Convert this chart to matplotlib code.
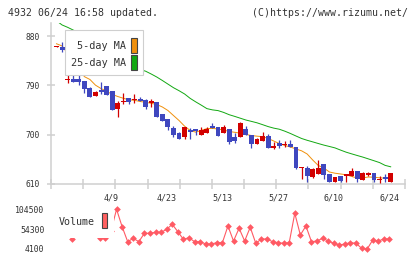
import matplotlib
matplotlib.use('Agg')
import matplotlib.pyplot as plt
import matplotlib.transforms as mtransforms
from matplotlib.patches import Rectangle
import numpy as np

# ---------------- data ----------------
opens = [859.5, 859.6, 799.3, 801.7, 801.7, 798.0, 784.7, 771.2, 781.6, 788.9,
         779.8, 746.4, 759.0, 767.0, 763.0, 764.6, 763.4, 757.3, 759.2, 737.8,
         728.7, 712.8, 702.4, 696.4, 708.6, 709.9, 699.5, 703.7, 715.9, 713.5,
         703.7, 710.4, 696.4, 696.4, 710.4, 699.5, 683.0, 689.1, 697.6, 676.3,
         684.3, 681.5, 683.0, 678.1, 639.0, 639.8, 623.3, 628.3, 646.5, 627.7,
         614.2, 625.2, 625.5, 625.2, 633.7, 617.3, 627.0, 630.6, 618.0, 623.3,
         614.2]
highs = [861.5, 869.8, 810.3, 813.9, 812.1, 798.5, 787.6, 780.3, 795.7, 788.9,
         779.8, 761.5, 776.7, 767.0, 774.3, 768.3, 765.2, 764.6, 759.2, 737.8,
         728.7, 715.9, 705.5, 713.5, 711.7, 709.9, 713.5, 713.5, 721.9, 713.5,
         717.7, 710.4, 702.6, 723.8, 715.9, 699.5, 693.4, 705.5, 700.7, 687.2,
         690.3, 688.5, 690.3, 678.1, 641.0, 642.9, 638.7, 653.8, 646.5, 627.7,
         623.3, 625.2, 627.5, 639.8, 633.7, 631.9, 631.9, 630.6, 624.6, 628.8,
         630.6]
lows = [859.5, 850.4, 795.0, 796.8, 790.7, 776.7, 768.3, 771.2, 773.8, 772.5,
        745.1, 731.8, 756.0, 755.5, 758.4, 761.5, 746.9, 751.1, 732.9, 725.6,
        708.6, 696.4, 691.6, 691.6, 692.2, 699.5, 699.5, 703.7, 711.7, 698.2,
        703.7, 682.5, 685.4, 696.4, 699.5, 676.3, 683.0, 689.1, 675.2, 673.3,
        676.3, 678.1, 678.1, 637.4, 619.1, 614.2, 621.0, 628.3, 618.6, 614.2,
        614.2, 614.2, 614.2, 625.2, 614.2, 617.3, 624.6, 614.2, 612.4, 614.2,
        614.2]
closes = [861.5, 854.2, 801.7, 796.8, 796.8, 783.4, 769.4, 778.5, 778.5, 772.5,
          745.1, 758.4, 761.0, 760.2, 765.0, 761.5, 751.1, 762.1, 732.9, 725.6,
          714.6, 699.5, 691.6, 713.5, 704.4, 706.8, 708.6, 710.4, 712.8, 698.2,
          713.5, 687.2, 689.1, 721.9, 699.5, 682.5, 691.6, 697.6, 675.2, 679.4,
          679.9, 683.5, 678.1, 639.8, 641.0, 625.2, 637.4, 639.8, 626.4, 614.2,
          623.3, 616.0, 627.5, 633.7, 618.6, 629.5, 630.6, 617.3, 620.0, 619.1,
          630.6]
ma5 = [866, 862, 848, 836, 822, 806, 800.8, 790.4, 784.2, 779.2,
       773.6, 769.7, 766.5, 763.7, 762.8, 760.6, 759.2, 757.3, 755.1, 750.6,
       744.2, 735.0, 725.9, 715.5, 707.7, 704.6, 708.0, 711.1, 711.5, 710.4,
       708.6, 705.8, 704.4, 702.7, 700.4, 698.5, 697.3, 696.4, 693.1, 688.5,
       683.8, 680.3, 677.5, 673.9, 670.6, 664.8, 653.8, 643.8, 639.2, 631.9,
       629.7, 628.3, 626.8, 623.7, 621.0, 621.3, 622.8, 622.4, 621.3, 620.6,
       621.5]
ma25 = [908, 900.3, 896, 891, 886, 880, 874, 868, 862, 856,
        849, 843, 836, 829, 823, 819, 815.9, 810.8, 805.3, 799,
        792.4, 785.8, 780.3, 774.3, 766.3, 759.9, 753.9, 747.6, 745.3, 744,
        740.7, 736.5, 733.4, 730.1, 726.8, 724.3, 721.7, 718.3, 714.8, 712,
        710, 706.4, 702.2, 697.6, 693.1, 689.8, 686.9, 683.9, 681, 678.5,
        675.9, 671.9, 668.1, 665, 662, 659.1, 655.8, 652.5, 649.1, 644,
        641.4]
volume = [60000, 55000, 70000, 30000, 52000, 58000, 65000, 48000, 31000, 31000,
          50000, 104500, 60500, 22600, 31200, 22600, 43800, 43800, 46300, 46300,
          53900, 66600, 47900, 28600, 32700, 22600, 22600, 16800, 16800, 20000,
          20000, 62300, 24300, 56500, 24300, 59000, 18500, 29400, 29400, 22600,
          20000, 18500, 20000, 94400, 39500, 62300, 22600, 24300, 31200, 24300,
          18500, 14200, 16800, 20000, 18500, 5900, 4100, 26900, 24300, 29400,
          29400]
date_labels = ['4/9', '4/23', '5/13', '5/27', '6/10', '6/24']
date_label_idx = [10, 20, 30, 40, 50, 60]
price_ticks = [610, 700, 790, 880]
vol_ticks = [4100, 54300, 104500]

# ---------------- styling ----------------
W, H = 420, 259
RED = '#d20000'
BLUE = '#3f47bf'
ORANGE = '#f0900c'
GREEN = '#12a812'
VOLC = '#ff5a64'
AXC = '#cfcfcf'
TXT = '#333333'
MONO = 'DejaVu Sans Mono'

def fx(px):
    return px / W

def fy(py):
    return 1 - py / H

fig = plt.figure(figsize=(W / 100, H / 100), dpi=100)
fig.patch.set_facecolor('white')

# main price axes
ax = fig.add_axes([fx(51), fy(184), fx(405) - fx(51), fy(23) - fy(184)])
n = len(closes)
x = np.arange(n)
ax.set_xlim(-0.99, 62.57)
ax.set_ylim(610, 903.9)

ax.plot(x, ma25, color=GREEN, lw=0.7, zorder=2)
ax.plot(x, ma5, color=ORANGE, lw=0.7, zorder=2)

o = np.array(opens); c = np.array(closes)
cols = [RED if cc >= oo else BLUE for oo, cc in zip(o, c)]
ax.vlines(x, lows, highs, colors=cols, lw=0.9, zorder=3)
ax.bar(x, np.abs(c - o), bottom=np.minimum(o, c), width=0.88,
       color=cols, linewidth=0, zorder=4)

for s in ['top', 'right']:
    ax.spines[s].set_visible(False)
for s in ['left', 'bottom']:
    ax.spines[s].set_color(AXC)
    ax.spines[s].set_linewidth(1.1)

ax.set_yticks(price_ticks)
ax.set_yticklabels([str(t) for t in price_ticks], fontsize=5.7,
                   family=MONO, color=TXT)
ax.tick_params(axis='y', direction='inout', length=5.8, width=1.1,
               color=AXC, pad=5.5)
xl = ax.get_xlim()
ax.set_xticks([xl[0] + k / 11 * (xl[1] - xl[0]) for k in range(12)])
ax.set_xticklabels([])
ax.tick_params(axis='x', direction='inout', length=6.7, width=1.1, color=AXC)

trans = mtransforms.blended_transform_factory(ax.transData, fig.transFigure)
for lab, i in zip(date_labels, date_label_idx):
    ax.text(i - 0.2, fy(198), lab, transform=trans, ha='center', va='center',
            fontsize=6, family=MONO, color=TXT, clip_on=False)

# volume axes
vax = fig.add_axes([fx(51), fy(249), fx(405) - fx(51), fy(209.3) - fy(249)])
vax.set_xlim(-0.99, 62.57)
vax.set_ylim(4100, 104500)
vax.plot(x - 0.22, volume, color=VOLC, lw=0.8, marker='D', ms=3.4,
         mec=VOLC, mfc=VOLC, mew=0, clip_on=False)
for s in vax.spines.values():
    s.set_visible(False)
vax.set_xticks([])
vax.set_yticks(vol_ticks)
vax.set_yticklabels([str(t) for t in vol_ticks], fontsize=5.85,
                    family=MONO, color=TXT)
vax.tick_params(axis='y', length=0, pad=4.8)
vax.patch.set_alpha(0)

# main legend
def fig_rect(x0, y0, x1, y1, **kw):
    r = Rectangle((fx(x0), fy(y1)), fx(x1) - fx(x0), fy(y0) - fy(y1),
                  transform=fig.transFigure, **kw)
    fig.add_artist(r)
    return r

fig_rect(65, 30, 143.3, 74.5, facecolor='white', edgecolor=AXC, lw=0.8, zorder=10)
fig.text(fx(126), fy(46), '5-day MA', ha='right', va='center', fontsize=7.3,
         family=MONO, color=TXT, zorder=11)
fig.text(fx(126), fy(62.5), '25-day MA', ha='right', va='center', fontsize=7.3,
         family=MONO, color=TXT, zorder=11)
fig_rect(131, 37.5, 137.3, 52.5, facecolor=ORANGE, edgecolor='#444444', lw=0.8, zorder=11)
fig_rect(131, 54.5, 137.3, 69.5, facecolor=GREEN, edgecolor='#444444', lw=0.8, zorder=11)

# volume legend
fig_rect(48, 203, 114, 238, facecolor='white', edgecolor='none', lw=0, zorder=10)
fig.text(fx(58.3), fy(222.3), 'Volume', ha='left', va='center', fontsize=7.2,
         family=MONO, color=TXT, zorder=11)
fig_rect(101.7, 212.7, 107.3, 228.3, facecolor='#ff6060', edgecolor='#444444',
         lw=0.8, zorder=11)

# header texts
fig.text(fx(8.3), fy(13.3), '4932 06/24 16:58 updated.', ha='left', va='center',
         fontsize=7.1, family=MONO, color=TXT)
fig.text(fx(408.3), fy(13.3), '(C)https://www.rizumu.net/', ha='right',
         va='center', fontsize=7.1, family=MONO, color=TXT)

fig.savefig('out.png', dpi=100, facecolor='white')
